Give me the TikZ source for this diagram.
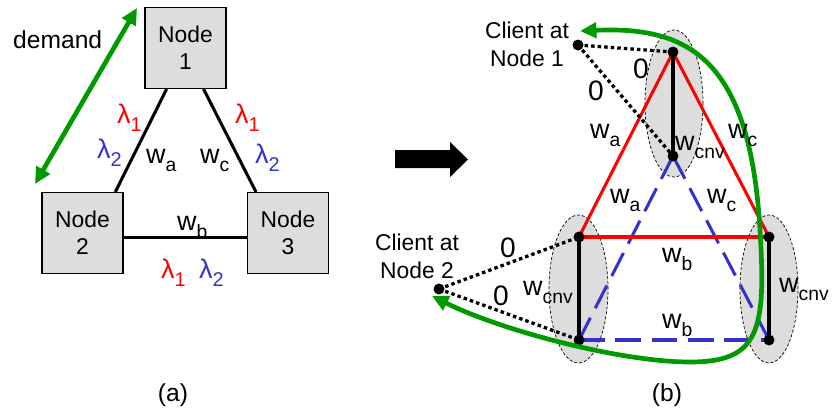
\documentclass[tikz,border=0pt]{standalone}
\usepackage{fontspec}
\setmainfont{Liberation Sans}
\usetikzlibrary{arrows.meta,calc,shapes.geometric}
\definecolor{lred}{RGB}{255,0,0}
\definecolor{lblue}{RGB}{51,51,204}
\definecolor{dgreen}{RGB}{0,153,0}
\definecolor{boxgray}{RGB}{221,221,221}
% lambda with lowered index, weight label with lowered index
\newcommand\lam[1]{\fontsize{23}{23}\selectfont λ\raisebox{-0.3em}{\fontsize{17}{17}\selectfont #1}}
\newcommand\wsub[1]{\fontsize{23}{23}\selectfont w\raisebox{-0.3em}{\fontsize{16.5}{16.5}\selectfont #1}}
\newcommand\zero{\fontsize{24}{24}\selectfont 0}
\tikzset{
  lbl/.style={anchor=base west, inner sep=0pt},
  netbox/.style={draw, line width=0.9pt, fill=boxgray, minimum width=2.43cm,
    minimum height=2.43cm, align=center, inner sep=0pt,
    font=\fontsize{19.5}{23}\selectfont},
  linkA/.style={line width=2.6pt},
  dot/.style={circle, fill=black, inner sep=0pt, minimum size=0.33cm},
  grp/.style={ellipse, draw, fill=boxgray, line width=0.6pt,
    dash pattern=on 2.5pt off 1.7pt, inner sep=0pt},
  redlink/.style={draw=lred, line width=2.6pt},
  bluelink/.style={draw=lblue, line width=2.6pt, dash pattern=on 22pt off 9pt},
  convlink/.style={draw=black, line width=2.6pt},
  zerolink/.style={draw=black, line width=2.8pt, dash pattern=on 3pt off 2.6pt},
  greenarrow/.style={draw=dgreen, line width=4pt,
    {Triangle[length=14pt,width=13pt]}-{Triangle[length=14pt,width=13pt]}},
  client/.style={align=center, inner sep=0pt, font=\fontsize{19.5}{24}\selectfont},
  caption/.style={inner sep=0pt, font=\fontsize{21}{21}\selectfont}
}
\begin{document}
\begin{tikzpicture}[x=0.03cm, y=-0.03cm]
\useasboundingbox (0,0) rectangle (833,410);

% ---------------- (a) three-node ring ----------------
\node[netbox] (n1) at (185.5,48) {Node\\1};
\node[netbox] (n2) at (82.5,233) {Node\\2};
\node[netbox] (n3) at (288,233) {Node\\3};

\draw[linkA] ($(n1.south west)!0.27!(n1.south east)$) -- ($(n2.north west)!0.9!(n2.north east)$);
\draw[linkA] ($(n1.south west)!0.72!(n1.south east)$) -- ($(n3.north west)!0.11!(n3.north east)$);
\draw[linkA] ($(n2.north east)!0.55!(n2.south east)$) -- ($(n3.north west)!0.55!(n3.south west)$);

\node[lbl, text=lred]  (la1) at (117,123) {\lam{1}};
\node[lbl, text=lblue] (la2) at (97,158)  {\lam{2}};
\node[lbl]             (wa)  at (146,163) {\wsub{a}};
\node[lbl]             (wc)  at (200,163) {\wsub{c}};
\node[lbl, text=lred]  (lc1) at (235,123) {\lam{1}};
\node[lbl, text=lblue] (lc2) at (255,163) {\lam{2}};
\node[lbl]             (wb)  at (177,230) {\wsub{b}};
\node[lbl, text=lred]  (lb1) at (161,278) {\lam{1}};
\node[lbl, text=lblue] (lb2) at (199,278) {\lam{2}};

\node[lbl, font=\fontsize{21}{21}\selectfont] (dem) at (13,48) {demand};
\coordinate (dtop) at (137,8);
\coordinate (dbot) at (35,184);
\draw[greenarrow] (dtop) -- (dbot);

\node[caption] (capa) at (173,395) {(a)};

% ---------------- transformation arrow ----------------
\fill (395,150) -- (450,150) -- (450,142) -- (468,159.5) -- (450,177) -- (450,168) -- (395,168) -- cycle;

% ---------------- (b) layered graph ----------------
\node[grp, minimum width=1.74cm, minimum height=4.41cm] (g1) at (674,103.5) {};
\node[grp, minimum width=1.77cm, minimum height=4.44cm] (g2) at (578.5,289) {};
\node[grp, minimum width=1.74cm, minimum height=4.44cm] (g3) at (769,289) {};

\coordinate (t1) at (673,52);
\coordinate (t2) at (673,156);
\coordinate (l1) at (579,237);
\coordinate (l2) at (579,340);
\coordinate (r1) at (769,237);
\coordinate (r2) at (769,340);
\coordinate (c1) at (578,45);
\coordinate (c2) at (439,289);

% wavelength 2 layer
\draw[bluelink] (t2) -- (l2);
\draw[bluelink] (t2) -- (r2);
\draw[bluelink] (l2) -- (r2);
% wavelength 1 layer
\draw[redlink] (t1) -- (l1);
\draw[redlink] (t1) -- (r1);
\draw[redlink] (l1) -- (r1);
% conversion links
\draw[convlink] (t1) -- (t2);
\draw[convlink] (l1) -- (l2);
\draw[convlink] (r1) -- (r2);
% client attachments
\draw[zerolink] (c1) -- (t1);
\draw[zerolink] (c1) -- (t2);
\draw[zerolink] (c2) -- (l1);
\draw[zerolink] (c2) -- (l2);

\foreach \p in {t1,t2,l1,l2,r1,r2,c1,c2}
  \node[dot] (d\p) at (\p) {};

% demand path
\coordinate (ge1) at (580,31);
\coordinate (ge2) at (432,296);
\draw[greenarrow] (ge1) .. controls (690,26) and (750,60) .. (760,230)
  .. controls (766,330) and (760,362) .. (690,362)
  .. controls (620,362) and (500,330) .. (ge2);

\node[client] (cn1) at (527,44) {Client at\\Node 1};
\node[client] (cn2) at (417,256) {Client at\\Node 2};

\node[lbl] (z1) at (633,78)  {\zero};
\node[lbl] (z2) at (588,100) {\zero};
\node[lbl] (z3) at (500,257) {\zero};
\node[lbl] (z4) at (493,305) {\zero};

\node[lbl] (wa1) at (590,138) {\wsub{a}};
\node[lbl] (wc1) at (728,138) {\wsub{c}};
\node[lbl] (wv1) at (675,150) {\wsub{cnv}};
\node[lbl] (wa2) at (610,203) {\wsub{a}};
\node[lbl] (wc2) at (707,203) {\wsub{c}};
\node[lbl] (wb1) at (662,262) {\wsub{b}};
\node[lbl] (wb2) at (662,328) {\wsub{b}};
\node[lbl] (wv2) at (523,295) {\wsub{cnv}};
\node[lbl] (wv3) at (779,292) {\wsub{cnv}};

\node[caption] (capb) at (667,395) {(b)};
\end{tikzpicture}
\end{document}
